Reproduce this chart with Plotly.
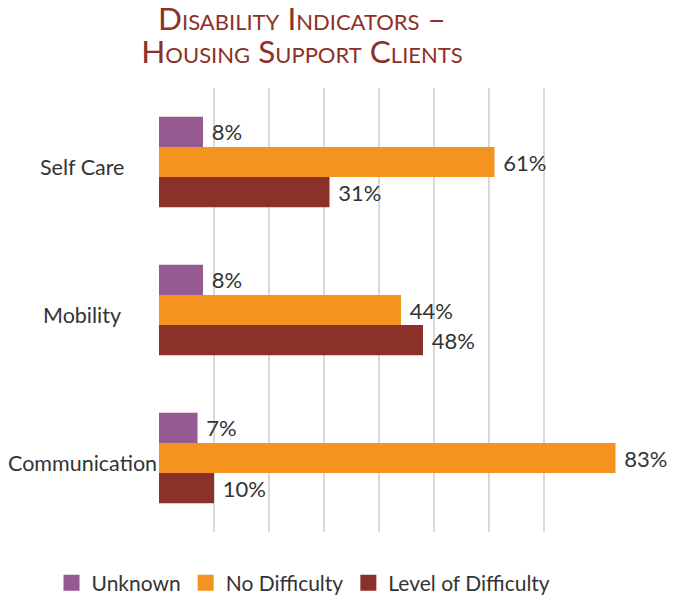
import plotly.graph_objects as go

categories = ["Self Care", "Mobility", "Communication"]
unknown = [8, 8, 7]
no_difficulty = [61, 44, 83]
level_of_difficulty = [31, 48, 10]
series_names = ["Unknown", "No Difficulty", "Level of Difficulty"]
colors = ["#955A8F", "#F59320", "#8B3129"]
grid_ticks = [0, 10, 20, 30, 40, 50, 60, 70]
title_lines = ["Disability Indicators –", "Housing Support Clients"]

# page body has an 8px default margin, so the figure is sized to fit the 685x595 window
W, H = 677, 587
L, R, T, B = 151, 64, 80, 63
plot_w = W - L - R

fig = go.Figure()
for name, vals, col in zip(series_names, [unknown, no_difficulty, level_of_difficulty], colors):
    fig.add_trace(go.Bar(
        y=categories, x=vals, name=name, orientation="h",
        marker=dict(color=col, line=dict(width=0)),
        text=[f"\u00a0{v}%" for v in vals], textposition="outside",
        textfont=dict(family="Lato", size=22, color="#333333"),
        cliponaxis=False, showlegend=False,
    ))
# legend entries with larger square swatches
for name, col in zip(series_names, colors):
    fig.add_trace(go.Scatter(
        x=[None], y=[None], mode="markers", name=name,
        marker=dict(symbol="square", size=18, color=col),
        showlegend=True,
    ))

# category labels centred in the label area (as in the original)
annotations = [
    dict(text=c, xref="paper", yref="y", x=(74 - L) / plot_w, y=c, xanchor="center",
         yanchor="middle", yshift=-5, showarrow=False,
         font=dict(family="Lato", size=21.5, color="#333333"))
    for c in categories
]

title_html = "<br>".join(f"<span style='font-size:31.5px'>{t}</span>" for t in title_lines)

fig.update_layout(
    width=W, height=H,
    paper_bgcolor="white", plot_bgcolor="white",
    margin=dict(l=L, r=R, t=T, b=B, autoexpand=False),
    barmode="group", bargap=0.39, bargroupgap=0,
    title=dict(text=title_html, x=294 / W, xref="container", xanchor="center",
               y=1 - 22 / H, yref="container", yanchor="top",
               font=dict(family="Lato", size=25.4, color="#8B3129", variant="small-caps")),
    legend=dict(orientation="h", x=(43.5 - L) / plot_w, xanchor="left", y=-0.115, yanchor="middle",
                font=dict(family="Lato", size=21, color="#333333"), itemwidth=30,
                traceorder="normal"),
    xaxis=dict(range=[0, 84], tickvals=grid_ticks, showticklabels=False,
               showgrid=True, gridcolor="#D9D9D9", gridwidth=2, zeroline=False,
               showline=False, automargin=False),
    yaxis=dict(autorange="reversed", showgrid=False, showline=False, ticks="",
               automargin=False, showticklabels=False),
    annotations=annotations,
)

fig.write_html("out.html")
